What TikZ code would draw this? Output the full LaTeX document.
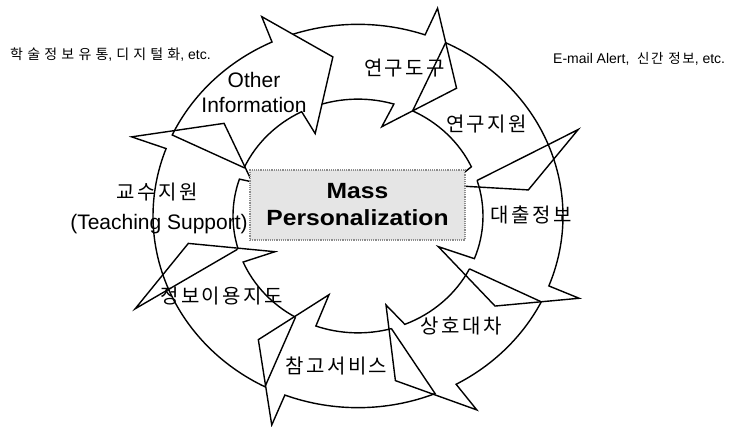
\documentclass[tikz,border=0pt]{standalone}
\usepackage{fontspec}
\setmainfont{Liberation Sans}
\newfontfamily\kr{Noto Sans CJK KR}
\newfontfamily\krs[LetterSpace=12]{Noto Sans CJK KR}
\newfontfamily\krw[LetterSpace=30]{Noto Sans CJK KR}
\begin{document}
\begin{tikzpicture}[x=1pt,y=1pt,
  arr/.style={draw=black, line width=1.4pt, line join=miter},
  krlbl/.style={font=\krs\fontsize{20}{24}\selectfont, inner sep=0pt},
  enlbl/.style={font=\fontsize{21}{25}\selectfont, inner sep=0pt, align=center},
  note/.style={font=\fontsize{14}{16}\selectfont, inner sep=0pt, anchor=west},
  boxstyle/.style={draw=black!45, densely dotted, line width=1.2pt, fill=black!10,
    minimum width=215pt, minimum height=70pt, inner sep=0pt, align=center,
    font=\bfseries\fontsize{22}{30}\selectfont}]
\useasboundingbox (0,0) rectangle (742,426);
\begin{scope}[shift={(358,210)}, yscale=0.935]
  % Other Information
  \draw[arr] (155:205) arc[start angle=155,end angle=114.8,radius=205] -- (114.3:234) -- (98.4:172) -- (115.9:98) -- (116.8:125) arc[start angle=116.8,end angle=155.6,radius=125] -- cycle;
  % 연구도구
  \draw[arr] (108.5:205) arc[start angle=108.5,end angle=70.9,radius=205] -- (70.3:236) -- (54.2:168.5) -- (76:98.4) -- (73.3:125) arc[start angle=73.3,end angle=106.7,radius=125];
  % 연구지원
  \draw[arr] (64.7:205) arc[start angle=64.7,end angle=21.85,radius=205] -- (22.8:239) -- (9.3:172.6) -- (20:96) -- (24.9:125) arc[start angle=24.9,end angle=64.1,radius=125] -- cycle;
  % 대출정보
  \draw[arr] (17.7:125) -- (21.85:205) arc[start angle=21.85,end angle=-21.4,radius=205] -- (-21.7:238) -- (-35.1:167.5) -- (-22.2:86.7) -- (-21.4:125) arc[start angle=-21.4,end angle=17.7,radius=125];
  % 상호대차
  \draw[arr] (-26.9:125) -- (-26.6:205) arc[start angle=-26.6,end angle=-61.4,radius=205] -- (-60.2:239) -- (-78:180) -- (-73.6:99.2) -- (-68:125) arc[start angle=-68,end angle=-26.9,radius=125];
  % 참고서비스
  \draw[arr] (-74.5:125) -- (-67.9:205) arc[start angle=-67.9,end angle=-110.9,radius=205] -- (-111.1:239.6) -- (-127:165.6) -- (-109:89) -- (-109.7:125) arc[start angle=-109.7,end angle=-74.5,radius=125];
  % 정보이용지도
  \draw[arr] (-120:125) -- (-117:205) arc[start angle=-117,end angle=-157.5,radius=205] -- (-156:243.9) -- (-170.2:172.2) -- (-155.3:91.4) -- (-156.8:125) arc[start angle=-156.8,end angle=-120,radius=125];
  % 교수지원
  \draw[arr] (196.5:126) -- (202.5:205) arc[start angle=202.5,end angle=159.4,radius=205] -- (159.5:241.7) -- (143.5:166.6) -- (161:112) -- (161.6:125) arc[start angle=161.6,end angle=196.5,radius=125];
\end{scope}
\node[boxstyle] (mp) at (357.5,221) {\scalebox{1.12}[1]{Mass}\\[-3pt]\scalebox{1.12}[1]{Personalization}};
\node[enlbl] (oi) at (254,333.5) {Other\\Information};
\node[krlbl] (yd) at (404.5,357.5) {연구도구};
\node[krlbl] (yj) at (486.5,302) {연구지원};
\node[krlbl] (dc) at (531,211.5) {대출정보};
\node[krlbl] (sh) at (461,100) {상호대차};
\node[krlbl] (cg) at (336.5,60) {참고서비스};
\node[krlbl] (jb) at (221.5,129.5) {정보이용지도};
\node[krlbl] (gs) at (157,233.5) {교수지원};
\node[enlbl] (ts) at (159,202) {(Teaching Support)};
\node[note] (n1) at (10,371) {{\krw\fontsize{14}{16}\selectfont 학술정보유통}, {\krw\fontsize{14}{16}\selectfont 디지털화}, etc.};
\node[note] (n2) at (553,367) {E-mail Alert,\ \ {\krs\fontsize{13.5}{16}\selectfont 신간 정보}, etc.};
\end{tikzpicture}
\end{document}
